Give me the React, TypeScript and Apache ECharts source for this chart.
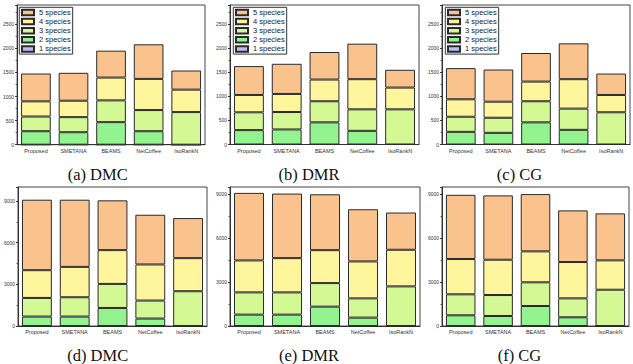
import React, { useEffect, useRef } from "react";
import * as echarts from "echarts";

const categories = ["Proposed", "SMETANA", "BEAMS", "NetCoffee", "IsoRankN"];
const speciesNames = ["1 species", "2 species", "3 species", "4 species", "5 species"];
const legendOrder = ["5 species", "4 species", "3 species", "2 species", "1 species"];
const speciesColors = ["#BDBDF5", "#93F38F", "#D3F894", "#FEF59C", "#FAC38E"];

// layer values per panel: [1 species, 2 species, 3 species, 4 species, 5 species]
const panelA_DMC = [
  [0, 0, 0, 0, 0],
  [280, 259, 468, 280, 0],
  [305, 313, 452, 439, 677],
  [315, 341, 474, 647, 466],
  [578, 579, 558, 718, 397],
];
const panelB_DMR = [
  [0, 0, 0, 0, 0],
  [299, 313, 460, 284, 0],
  [370, 362, 439, 447, 731],
  [361, 376, 451, 627, 452],
  [600, 627, 573, 738, 370],
];
const panelC_CG = [
  [0, 0, 0, 0, 0],
  [263, 242, 460, 305, 0],
  [314, 314, 439, 441, 670],
  [363, 334, 409, 612, 360],
  [648, 669, 594, 745, 445],
];
const panelD_DMC = [
  [0, 0, 0, 0, 0],
  [678, 678, 1298, 534, 0],
  [1341, 1391, 1730, 1297, 2502],
  [1997, 2185, 2430, 2596, 2379],
  [5069, 4831, 3583, 3576, 2884],
];
const panelE_DMR = [
  [0, 0, 0, 0, 0],
  [777, 777, 1323, 573, 0],
  [1521, 1521, 1610, 1316, 2708],
  [2183, 2340, 2250, 2524, 2502],
  [4617, 4412, 3819, 3566, 2544],
];
const panelF_CG = [
  [0, 0, 0, 0, 0],
  [731, 683, 1366, 594, 0],
  [1434, 1434, 1619, 1296, 2479],
  [2411, 2413, 2117, 2481, 2008],
  [4392, 4397, 3914, 3531, 3210],
];

const topAxisMax = 2900;
const topInterval = 500;
const bottomAxisMax = [10000, 9500, 9500];
const bottomInterval = 3000;

const topTitles = ["(a) DMC", "(b) DMR", "(c) CG"];
const bottomTitles = ["(d) DMC", "(e) DMR", "(f) CG"];

export default function App() {
  const ref = useRef<HTMLDivElement>(null);
  useEffect(() => {
    if (!ref.current) return;
    const chart = echarts.init(ref.current, undefined, { renderer: "svg" });
    const panels = [panelA_DMC, panelB_DMR, panelC_CG, panelD_DMC, panelE_DMR, panelF_CG];
    const grids = [
      { left: 16, top: 5, width: 189, height: 139.7 },
      { left: 230, top: 5, width: 189, height: 139.5 },
      { left: 442, top: 5, width: 188, height: 139.5 },
      { left: 18, top: 187, width: 189, height: 139 },
      { left: 230, top: 187, width: 190, height: 139 },
      { left: 442, top: 187, width: 187, height: 139 },
    ].map((g) => ({ ...g, show: true, borderColor: "#444", borderWidth: 1, containLabel: false }));

    const xAxis = grids.map((_, i) => ({
      type: "category",
      gridIndex: i,
      data: categories,
      axisLine: { lineStyle: { color: "#333", width: 1 } },
      axisTick: { alignWithLabel: true, inside: true, length: 3, lineStyle: { color: "#333" } },
      axisLabel: {
        interval: 0,
        fontSize: 5.5,
        color: "#333",
        fontFamily: "Liberation Sans",
        margin: 3,
      },
    }));
    const yAxis = grids.map((_, i) => {
      const top = i < 3;
      return {
        type: "value",
        gridIndex: i,
        min: 0,
        max: top ? topAxisMax : bottomAxisMax[i - 3],
        interval: top ? topInterval : bottomInterval,
        splitLine: { show: false },
        axisLine: { show: true, lineStyle: { color: "#333", width: 1 } },
        axisTick: { show: true, length: 2, lineStyle: { color: "#333" } },
        minorTick: { show: true, splitNumber: 2, length: 1.5, lineStyle: { color: "#555" } },
        axisLabel: {
          fontSize: 5,
          color: "#333",
          fontFamily: "Liberation Sans",
          margin: 3,
          showMaxLabel: false,
          formatter: (v: number) => String(v),
        },
      };
    });

    const series: any[] = [];
    panels.forEach((panel, pi) => {
      speciesNames.forEach((name, si) => {
        series.push({
          type: "bar",
          name,
          xAxisIndex: pi,
          yAxisIndex: pi,
          stack: "p" + pi,
          data: panel[si],
          barCategoryGap: "21%",
          itemStyle: { color: speciesColors[si], borderColor: "#2a2a2a", borderWidth: 1 },
        });
      });
    });

    const legends = grids.slice(0, 3).map((g) => ({
      data: legendOrder,
      orient: "vertical",
      left: g.left + 3.3,
      top: 7.3,
      padding: [1.2, 2, 1.2, 1.7],
      itemGap: 1.1,
      itemWidth: 12,
      itemHeight: 5.5,
      icon: "rect",
      borderColor: "#333",
      borderWidth: 1,
      backgroundColor: "#fff",
      selectedMode: false,
      textStyle: { fontSize: 7.5, lineHeight: 7.2, color: "#222", fontFamily: "Liberation Sans" },
    }));

    const titleXs = [97.7, 309, 519.5];
    const graphic: any[] = [];
    topTitles.forEach((t, i) =>
      graphic.push({
        type: "text",
        x: titleXs[i],
        y: 174,
        style: {
          text: t,
          fontSize: 16.5,
          fontFamily: "Liberation Serif",
          fill: "#111",
          textAlign: "center",
          textVerticalAlign: "middle",
        },
      })
    );
    bottomTitles.forEach((t, i) =>
      graphic.push({
        type: "text",
        x: titleXs[i],
        y: 355.5,
        style: {
          text: t,
          fontSize: 16.5,
          fontFamily: "Liberation Serif",
          fill: "#111",
          textAlign: "center",
          textVerticalAlign: "middle",
        },
      })
    );

    chart.setOption({
      animation: false,
      backgroundColor: "#fff",
      grid: grids,
      xAxis,
      yAxis,
      legend: legends,
      series,
      graphic,
    });
    return () => chart.dispose();
  }, []);
  return (
    <div
      ref={ref}
      style={{ position: "absolute", left: 0, top: 0, width: 633, height: 364 }}
    />
  );
}
